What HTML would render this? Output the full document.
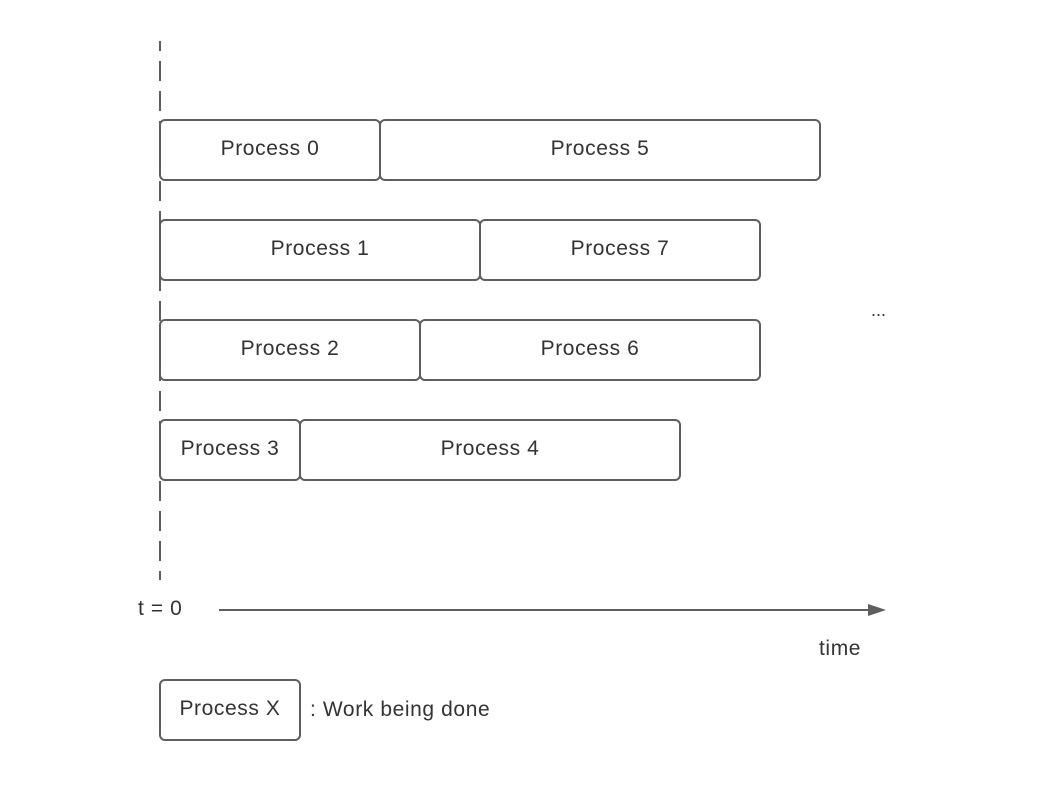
<!DOCTYPE html>
<html><head><style>body{margin:0;background:#fff}</style></head><body>
<svg width="1040" height="780" xmlns="http://www.w3.org/2000/svg" font-family="Liberation Sans, Arial, sans-serif" font-size="21" letter-spacing="0.6" fill="#333">
<line x1="160" y1="41" x2="160" y2="580" stroke="#5e5e5e" stroke-width="2" stroke-dasharray="10 10 20 10 20 10 20 10 20 10 20 10 20 10 20 10 20 10 20 10 20 10 20 10 20 10 20 10 20 10 20 10 20 10 20 10 20 10 20 10 20 10"/>
<g fill="#fff" stroke="#5e5e5e" stroke-width="2">
<rect x="160" y="120" width="220" height="60" rx="5"/>
<rect x="380" y="120" width="440" height="60" rx="5"/>
<rect x="160" y="220" width="320" height="60" rx="5"/>
<rect x="480" y="220" width="280" height="60" rx="5"/>
<rect x="160" y="320" width="260" height="60" rx="5"/>
<rect x="420" y="320" width="340" height="60" rx="5"/>
<rect x="160" y="420" width="140" height="60" rx="5"/>
<rect x="300" y="420" width="380" height="60" rx="5"/>
<rect x="160" y="680" width="140" height="60" rx="5"/>
</g>
<g text-anchor="middle" fill="#333">
<text x="270" y="155">Process 0</text>
<text x="600" y="155">Process 5</text>
<text x="320" y="255">Process 1</text>
<text x="620" y="255">Process 7</text>
<text x="290" y="355">Process 2</text>
<text x="590" y="355">Process 6</text>
<text x="230" y="455">Process 3</text>
<text x="490" y="455">Process 4</text>
<text x="230" y="715">Process X</text>
</g>
<text x="871" y="316" font-size="18" letter-spacing="0">...</text>
<text x="138" y="615">t = 0</text>
<line x1="219" y1="610" x2="870" y2="610" stroke="#5e5e5e" stroke-width="2"/>
<polygon points="868,604 886,610 868,616" fill="#5e5e5e"/>
<text x="819" y="655">time</text>
<text x="310" y="716">: Work being done</text>
</svg>
</body></html>
